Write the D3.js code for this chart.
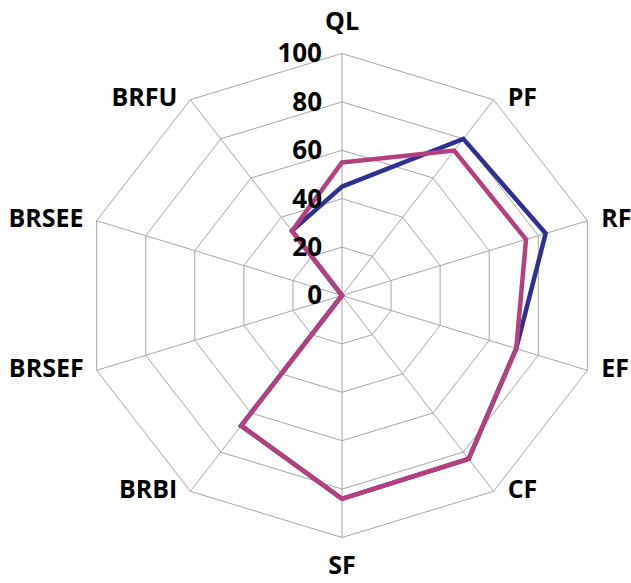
<!DOCTYPE html>
<html>
<head>
<meta charset="utf-8">
<script src="https://cdn.jsdelivr.net/npm/d3@7"></script>
<style>
  body { margin: 0; background: #fff; }
  text { font-family: "Open Sans", "Liberation Sans", sans-serif; font-weight: bold; fill: #000; }
</style>
</head>
<body>
<div id="chart"></div>
<script>
// axes, clockwise from top
var axes = ["QL", "PF", "RF", "EF", "CF", "SF", "BRBI", "BRSEF", "BRSEE", "BRFU"];
var seriesBlue = [45, 80, 83, 71, 83.5, 84, 66.5, 0, 0, 33];
var seriesPink = [55, 74, 75, 71, 83.5, 84, 66.5, 0, 0, 33];
var ticks = [0, 20, 40, 60, 80, 100];

var width = 631, height = 583;
var cx = 342, cy = 295.5;

var svg = d3.select("#chart").append("svg")
    .attr("width", width).attr("height", height);

// chart is a bit wider than tall
var rx = d3.scaleLinear().domain([0, 100]).range([0, 258]);
var ry = d3.scaleLinear().domain([0, 100]).range([0, 242]);
var angle = d3.scaleLinear().domain([0, axes.length]).range([0, 2 * Math.PI]);

function px(v, i) { return cx + rx(v) * Math.sin(angle(i)); }
function py(v, i) { return cy - ry(v) * Math.cos(angle(i)); }

var closedLine = d3.line()
    .x(function(d) { return px(d.v, d.i); })
    .y(function(d) { return py(d.v, d.i); })
    .curve(d3.curveLinearClosed);

// web rings
ticks.slice(1).forEach(function(t) {
    svg.append("path")
        .attr("d", closedLine(axes.map(function(a, i) { return {v: t, i: i}; })))
        .attr("fill", "none")
        .attr("stroke", "#a6a6a6")
        .attr("stroke-width", 1);
});

// spokes
svg.selectAll("line.spoke").data(axes).enter().append("line")
    .attr("class", "spoke")
    .attr("x1", cx).attr("y1", cy)
    .attr("x2", function(d, i) { return px(100, i); })
    .attr("y2", function(d, i) { return py(100, i); })
    .attr("stroke", "#a6a6a6")
    .attr("stroke-width", 1);

// series
function drawSeries(values, color) {
    svg.append("path")
        .attr("d", closedLine(values.map(function(v, i) { return {v: v, i: i}; })))
        .attr("fill", "none")
        .attr("stroke", color)
        .attr("stroke-width", 4.5)
        .attr("stroke-linejoin", "miter");
}
drawSeries(seriesBlue, "#2e3192");
drawSeries(seriesPink, "#b5407f");

// tick labels
svg.selectAll("text.tick").data(ticks).enter().append("text")
    .attr("class", "tick")
    .attr("x", cx - 20)
    .attr("y", function(d) { return cy - ry(d) + 2; })
    .attr("text-anchor", "end")
    .attr("dominant-baseline", "middle")
    .style("font-size", "26px")
    .text(function(d) { return d; });

// axis labels
svg.selectAll("text.axis").data(axes).enter().append("text")
    .attr("class", "axis")
    .attr("x", function(d, i) {
        var s = Math.sin(angle(i));
        if (Math.abs(s) < 0.1) return px(100, i);
        return px(100, i) + (s > 0 ? 14 : -13);
    })
    .attr("y", function(d, i) {
        var s = Math.sin(angle(i)), c = Math.cos(angle(i));
        if (Math.abs(s) < 0.1) return py(100, i) - 30 * c;
        return py(100, i);
    })
    .attr("text-anchor", function(d, i) {
        var s = Math.sin(angle(i));
        if (Math.abs(s) < 0.1) return "middle";
        return s > 0 ? "start" : "end";
    })
    .attr("dominant-baseline", "middle")
    .style("font-size", "25px")
    .text(function(d) { return d; });
</script>
</body>
</html>
